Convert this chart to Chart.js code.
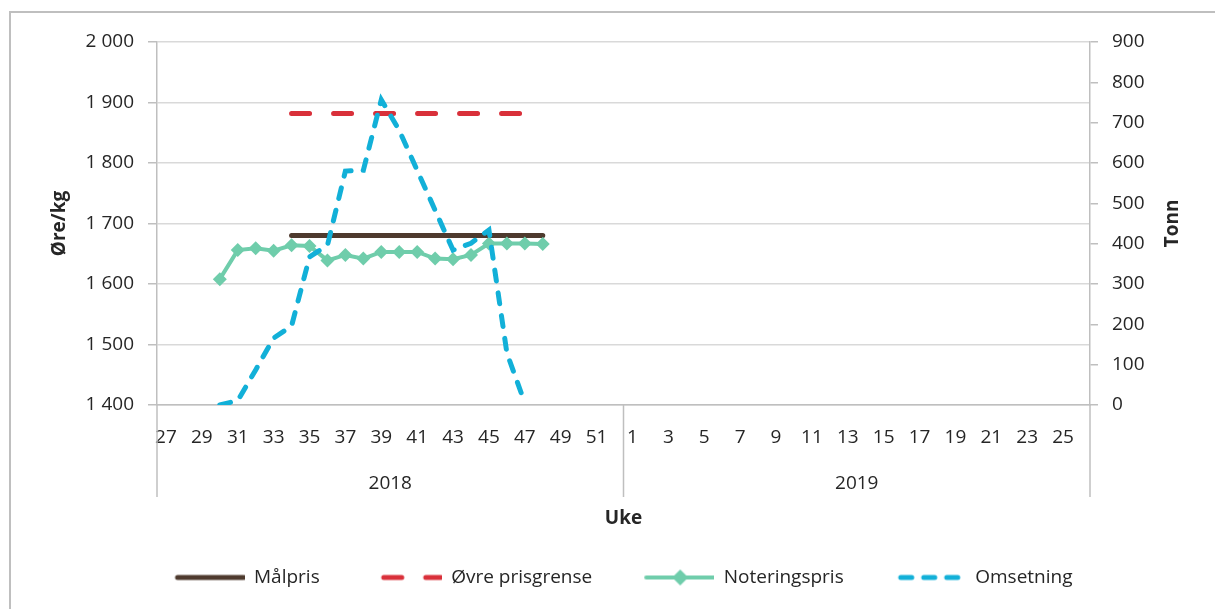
<!DOCTYPE html>
<html>
<head>
<meta charset="utf-8">
<script src="https://cdn.jsdelivr.net/npm/chart.js@4/dist/chart.umd.min.js"></script>
<style>
html,body{margin:0;padding:0;background:#fff;}
#wrap{position:relative;width:1215px;height:609px;}
canvas{display:block;}
</style>
</head>
<body>
<div id="wrap"><canvas id="c" width="1215" height="609"></canvas></div>
<script>
// ---- Data ----
const weeks2018 = ['27','28','29','30','31','32','33','34','35','36','37','38','39','40','41','42','43','44','45','46','47','48','49','50','51','52'];
const weeks2019 = ['1','2','3','4','5','6','7','8','9','10','11','12','13','14','15','16','17','18','19','20','21','22','23','24','25','26'];
const years = ['2018', '2019'];

const malprisWeeks = ['34','35','36','37','38','39','40','41','42','43','44','45','46','47','48'];
const malpris = [1680,1680,1680,1680,1680,1680,1680,1680,1680,1680,1680,1680,1680,1680,1680];

const ovreWeeks = ['34','35','36','37','38','39','40','41','42','43','44','45','46','47'];
const ovrePrisgrense = [1882,1882,1882,1882,1882,1882,1882,1882,1882,1882,1882,1882,1882,1882];

const noteringWeeks = ['30','31','32','33','34','35','36','37','38','39','40','41','42','43','44','45','46','47','48'];
const noteringspris = [1608,1656,1659,1655,1664,1663,1639,1648,1642,1653,1653,1653,1642,1641,1648,1667,1667,1667,1666];

const omsetningWeeks = ['30','31','32','33','34','35','36','37','38','39','40','41','42','43','44','45','46','47'];
const omsetning = [0,11,87,166,196,367,396,580,582,757,681,582,483,384,401,434,129,5];

const leftTicks = {min: 1400, max: 2000, step: 100};
const rightTicks = {min: 0, max: 900, step: 100};

// ---- Styles ----
const FONT = "'Open Sans', sans-serif";
const TXT = '#262626';
const GRID = '#d9d9d9';
const AXIS = '#bfbfbf';
const C_MAL = '#4e3a2e';
const C_OVRE = '#d9303a';
const C_NOT = '#6fcdab';
const C_OMS = '#12b0d8';
const DASH_OVRE = [18, 24];
const DASH_OMS = [11, 12];

Chart.defaults.font.family = FONT;
Chart.defaults.font.size = 19;
Chart.defaults.color = TXT;

function pts(w, v) { return w.map((x, i) => ({x: x, y: v[i]})); }
function fmt(v) { return String(v).replace(/\B(?=(\d{3})+(?!\d))/g, ' '); }

// legend symbol images: 84 px wide, symbol in the right-hand 70 px
const LEG_W = 84, SH = 14;
function legendImg(kind) {
  const c = document.createElement('canvas');
  c.width = LEG_W; c.height = 18;
  const g = c.getContext('2d');
  g.lineCap = 'round';
  if (kind === 0) { g.strokeStyle = C_MAL; g.lineWidth = 5; g.beginPath(); g.moveTo(SH + 3, 9); g.lineTo(SH + 69, 9); g.stroke(); }
  if (kind === 1) { g.strokeStyle = C_OVRE; g.lineWidth = 5; g.setLineDash(DASH_OVRE); g.beginPath(); g.moveTo(SH + 12, 9); g.lineTo(SH + 69, 9); g.stroke(); }
  if (kind === 2) {
    g.strokeStyle = C_NOT; g.lineWidth = 4; g.beginPath(); g.moveTo(SH + 2, 9); g.lineTo(SH + 70, 9); g.stroke();
    g.fillStyle = C_NOT; g.beginPath(); g.moveTo(SH + 36, 1); g.lineTo(SH + 44, 9); g.lineTo(SH + 36, 17); g.lineTo(SH + 28, 9); g.closePath(); g.fill();
  }
  if (kind === 3) { g.strokeStyle = C_OMS; g.lineWidth = 5; g.setLineDash(DASH_OMS); g.beginPath(); g.moveTo(SH + 5, 9); g.lineTo(SH + 68, 9); g.stroke(); }
  return c;
}
const legendImgs = [legendImg(0), legendImg(1), legendImg(2), legendImg(3)];

const extras = {
  id: 'extras',
  afterDraw(chart) {
    const ctx = chart.ctx, x = chart.scales.x, y1 = chart.scales.y1, ca = chart.chartArea;
    ctx.save();
    // outer frame (top + left)
    ctx.strokeStyle = AXIS; ctx.lineWidth = 2;
    ctx.beginPath(); ctx.moveTo(10, 609); ctx.lineTo(10, 12); ctx.lineTo(1215, 12); ctx.stroke();
    // year separators
    ctx.lineWidth = 1.5;
    const mid = (x.getPixelForValue(weeks2018.length - 1) + x.getPixelForValue(weeks2018.length)) / 2;
    [x.left, mid, x.right].forEach(px => {
      ctx.beginPath(); ctx.moveTo(px, ca.bottom); ctx.lineTo(px, 497); ctx.stroke();
    });
    // right axis title
    ctx.fillStyle = TXT;
    ctx.font = "bold 19px " + FONT;
    ctx.textAlign = 'center'; ctx.textBaseline = 'middle';
    ctx.translate(y1.left + 83, (ca.top + ca.bottom) / 2);
    ctx.rotate(-Math.PI / 2);
    ctx.fillText('Tonn', 0, 0);
    ctx.restore();
  }
};

new Chart(document.getElementById('c'), {
  type: 'line',
  data: {
    datasets: [
      {label: 'Målpris', data: pts(malprisWeeks, malpris), yAxisID: 'y', borderColor: C_MAL, backgroundColor: C_MAL,
        borderWidth: 5, borderCapStyle: 'round', pointRadius: 0, order: 4},
      {label: 'Øvre prisgrense', data: pts(ovreWeeks, ovrePrisgrense), yAxisID: 'y', borderColor: C_OVRE, backgroundColor: C_OVRE,
        borderWidth: 5, borderDash: DASH_OVRE, borderCapStyle: 'round', pointRadius: 0, order: 3},
      {label: 'Noteringspris', data: pts(noteringWeeks, noteringspris), yAxisID: 'y', borderColor: C_NOT, backgroundColor: C_NOT,
        borderWidth: 4, pointStyle: 'rectRot', pointRadius: 7, pointBorderWidth: 0, pointBackgroundColor: C_NOT, order: 2},
      {label: 'Omsetning', data: pts(omsetningWeeks, omsetning), yAxisID: 'y1', borderColor: C_OMS, backgroundColor: C_OMS,
        borderWidth: 5, borderDash: DASH_OMS, borderCapStyle: 'round', pointRadius: 0, order: 1}
    ]
  },
  options: {
    responsive: false,
    animation: false,
    devicePixelRatio: 1,
    layout: {padding: {left: 48, right: 30, top: 42, bottom: 12}},
    plugins: {
      tooltip: {enabled: false},
      legend: {
        position: 'bottom',
        labels: {
          usePointStyle: true,
          pointStyleWidth: LEG_W,
          padding: 38,
          color: TXT,
          font: {size: 19, family: FONT},
          sort: (a, b) => a.datasetIndex - b.datasetIndex,
          generateLabels(chart) {
            const items = Chart.defaults.plugins.legend.labels.generateLabels(chart);
            items.forEach(it => { it.pointStyle = legendImgs[it.datasetIndex]; });
            return items;
          }
        }
      }
    },
    scales: {
      x: {
        type: 'category',
        labels: weeks2018.concat(weeks2019),
        offset: true,
        grid: {display: false, drawTicks: false},
        border: {display: true, color: AXIS, width: 1.5},
        ticks: {
          autoSkip: false, maxRotation: 0, padding: 21, color: TXT,
          callback: function (v, i) { return i % 2 === 0 ? this.getLabelForValue(v) : ''; }
        },
        afterFit(s) { s.height = 50; }
      },
      x2: {
        type: 'category',
        position: 'bottom',
        labels: years,
        offset: true,
        grid: {display: false, drawTicks: false},
        border: {display: false},
        ticks: {padding: 17, color: TXT, maxRotation: 0},
        title: {display: true, text: 'Uke', font: {weight: 'bold', size: 19}, color: TXT, padding: 0},
        afterFit(s) { s.height = 75; }
      },
      y: {
        position: 'left',
        min: leftTicks.min, max: leftTicks.max,
        ticks: {stepSize: leftTicks.step, padding: 14, color: TXT, callback: v => fmt(v)},
        grid: {color: GRID, lineWidth: 1.5, drawTicks: true, tickLength: 9, tickColor: AXIS},
        border: {color: AXIS, width: 1.5},
        title: {display: true, text: 'Øre/kg', font: {weight: 'bold', size: 19}, color: TXT, padding: 0},
        afterFit(s) { s.width = 109; }
      },
      y1: {
        position: 'right',
        min: rightTicks.min, max: rightTicks.max,
        ticks: {stepSize: rightTicks.step, padding: 14, color: TXT},
        grid: {drawOnChartArea: false, drawTicks: true, tickLength: 8, tickColor: AXIS, lineWidth: 1.5},
        border: {color: AXIS, width: 1.5},
        afterFit(s) { s.width = 95; }
      }
    }
  },
  plugins: [extras]
});
</script>
</body>
</html>
